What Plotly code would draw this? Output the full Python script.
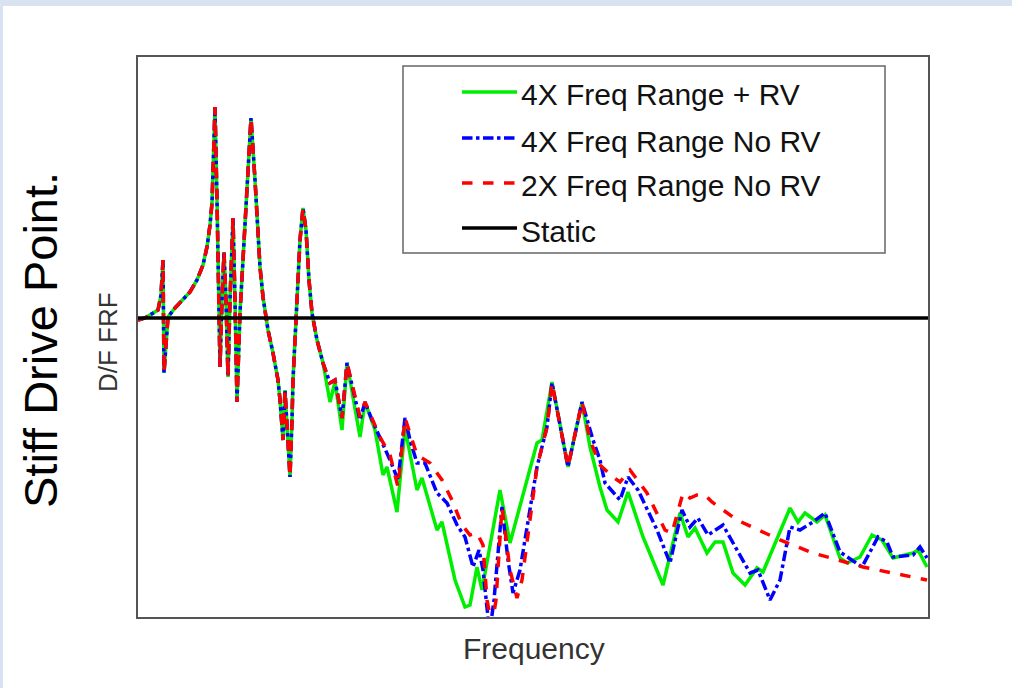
import plotly.graph_objects as go

# ---- data (frequency in arbitrary units, response in dB-like units) ----
low_freq = [0, 7, 12, 20, 23, 25, 26, 28, 30, 37, 45, 52, 59, 65, 69, 72, 74, 76, 77, 79,
            82, 84, 86, 88, 90, 92, 95, 97, 99, 102, 109, 113, 117, 122, 125, 130, 135, 140,
            142, 145, 147, 150, 152, 154, 155, 159, 162, 165, 168, 171, 174, 179, 185]
low_amp = [29.7, 29.9, 30.2, 30.7, 32.2, 35.7, 24.4, 27.7, 30.0, 30.9, 31.7, 32.5, 33.7, 35.2,
           37.0, 39.2, 41.4, 46.7, 51.0, 41.7, 25.0, 31.7, 36.5, 31.7, 24.0, 31.7, 39.9, 31.7,
           21.5, 30.4, 43.7, 49.9, 43.7, 35.0, 32.0, 28.7, 26.4, 23.7, 21.7, 17.7, 22.7, 17.7,
           14.0, 19.7, 23.7, 31.7, 37.7, 40.9, 38.7, 33.7, 30.4, 27.7, 25.4]

green_freq = [192, 197, 204, 209, 222, 227, 237, 245, 249, 259, 267, 279, 284, 299, 304, 317,
              327, 332, 339, 344, 362, 372, 399, 404, 414, 430, 444, 452, 462, 469, 480, 490,
              505, 525, 542, 550, 557, 569, 577, 585, 595, 607, 619, 625, 652, 660, 667, 679,
              687, 702, 709, 722, 734, 744, 755, 775, 780, 789]
green_amp = [21.5, 23.5, 18.7, 25.4, 18.0, 21.5, 18.7, 14.2, 15.0, 10.5, 18.9, 12.7, 13.9, 8.7,
             9.5, 3.7, 1.0, 1.2, 5.0, 2.7, 12.7, 7.4, 17.4, 17.7, 23.5, 15.0, 21.5, 17.0, 13.0,
             10.7, 9.5, 12.5, 8.0, 3.2, 10.4, 8.0, 8.9, 6.4, 7.5, 7.5, 4.4, 3.2, 4.9, 4.5, 10.9,
             9.5, 10.4, 9.5, 10.2, 5.9, 5.4, 6.0, 8.2, 7.7, 5.9, 6.4, 6.7, 5.0]

blue_freq = [192, 197, 204, 209, 222, 227, 234, 242, 252, 260, 267, 272, 279, 287, 299, 309,
             319, 327, 335, 341, 345, 350, 352, 356, 364, 370, 375, 382, 399, 409, 414, 430,
             444, 455, 462, 467, 482, 490, 500, 519, 532, 544, 552, 560, 570, 585, 599, 612,
             620, 632, 642, 652, 662, 675, 687, 702, 724, 740, 749, 755, 775, 782, 789]
blue_amp = [23.4, 23.7, 19.9, 25.4, 19.7, 21.5, 19.7, 18.0, 15.7, 13.7, 19.9, 17.7, 15.4, 15.4,
            12.4, 11.4, 9.2, 8.0, 5.0, 6.7, 4.7, 0.0, -1.3, 1.7, 11.0, 5.7, 2.4, 4.7, 15.0,
            19.0, 23.4, 15.0, 21.5, 17.7, 15.7, 13.4, 11.7, 14.0, 12.7, 8.7, 5.4, 10.7, 9.0,
            9.9, 8.2, 9.2, 6.7, 4.4, 4.7, 1.7, 3.7, 9.0, 8.7, 9.5, 10.4, 6.5, 5.0, 8.0, 7.5,
            6.0, 6.2, 7.0, 5.9]

red_freq = [192, 197, 204, 209, 222, 227, 242, 252, 260, 267, 279, 292, 304, 314, 324, 332,
            339, 345, 349, 354, 358, 364, 372, 379, 384, 399, 409, 414, 430, 444, 452, 462,
            475, 482, 492, 509, 527, 534, 545, 552, 559, 567, 574, 599, 642, 675, 725, 789]
red_amp = [23.4, 23.7, 19.9, 25.4, 20.0, 21.5, 18.0, 16.2, 13.0, 19.9, 16.2, 15.4, 13.7, 11.7,
           9.2, 8.2, 8.4, 7.2, 1.7, -0.8, 1.7, 11.0, 4.7, 1.9, 3.7, 15.0, 19.0, 23.4, 15.0,
           21.5, 17.7, 15.2, 14.0, 13.5, 14.7, 12.4, 8.7, 8.4, 12.4, 11.9, 12.2, 12.2, 11.5,
           9.7, 7.7, 6.4, 5.0, 3.7]

static_freq = [0, 790]
static_amp = [29.9, 29.9]

series_names = ["4X Freq Range + RV", "4X Freq Range No RV", "2X Freq Range No RV", "Static"]
series_colors = ["#00ee00", "#0000ff", "#ff0000", "#000000"]
series_dash = ["solid", "dashdot", "dash", "solid"]

x_range = [0, 790]
y_range = [0, 56]

FONT = "Liberation Sans, Arial, sans-serif"
LW = 3.5

fig = go.Figure()
fig.add_trace(go.Scatter(x=low_freq + green_freq, y=low_amp + green_amp, mode="lines",
                         line=dict(color=series_colors[0], width=LW, dash=series_dash[0]),
                         name=series_names[0]))
fig.add_trace(go.Scatter(x=low_freq + blue_freq, y=low_amp + blue_amp, mode="lines",
                         line=dict(color=series_colors[1], width=LW, dash=series_dash[1]),
                         name=series_names[1]))
fig.add_trace(go.Scatter(x=low_freq + red_freq, y=low_amp + red_amp, mode="lines",
                         line=dict(color=series_colors[2], width=LW, dash=series_dash[2]),
                         name=series_names[2]))
fig.add_trace(go.Scatter(x=static_freq, y=static_amp, mode="lines",
                         line=dict(color=series_colors[3], width=3.5),
                         name=series_names[3]))

# plot area: x 138..928, y 57..617 in a 1012x688 canvas
L, R, T, B = 138, 84, 57, 71
W, H = 1012 - L - R, 688 - T - B


def px(x):
    return (x - L) / W


def py(y):
    return (688 - B - y) / H


shapes = []
# light-blue slide border strips
shapes.append(dict(type="rect", xref="paper", yref="paper", x0=px(0), x1=px(1012),
                   y0=py(6), y1=py(0), fillcolor="#d8e2f0", line=dict(width=0), layer="below"))
shapes.append(dict(type="rect", xref="paper", yref="paper", x0=px(0), x1=px(3),
                   y0=py(688), y1=py(0), fillcolor="#d8e2f0", line=dict(width=0), layer="below"))
# legend box
shapes.append(dict(type="rect", xref="paper", yref="paper", x0=px(403), x1=px(885),
                   y0=py(253), y1=py(66), fillcolor="white", line=dict(color="#666666", width=1.5)))

annotations = []
row_y = [92, 138, 183, 228]
for name, color, dash, yy in zip(series_names, series_colors, series_dash, row_y):
    shapes.append(dict(type="line", xref="paper", yref="paper", x0=px(462), x1=px(517),
                       y0=py(yy), y1=py(yy), line=dict(color=color, width=3.5, dash=dash)))
    annotations.append(dict(text=name, xref="paper", yref="paper", x=px(519), y=py(yy + 3),
                            xanchor="left", yanchor="middle", showarrow=False,
                            font=dict(family=FONT, size=30, color="#111111")))

annotations.append(dict(text="Stiff Drive Point.", xref="paper", yref="paper", x=px(40), y=py(340),
                        xanchor="center", yanchor="middle", showarrow=False, textangle=-90,
                        font=dict(family=FONT, size=47, color="#000000")))
annotations.append(dict(text="D/F FRF", xref="paper", yref="paper", x=px(108), y=py(342),
                        xanchor="center", yanchor="middle", showarrow=False, textangle=-90,
                        font=dict(family=FONT, size=26, color="#333333")))
annotations.append(dict(text="Frequency", xref="paper", yref="paper", x=px(534), y=py(648),
                        xanchor="center", yanchor="middle", showarrow=False,
                        font=dict(family=FONT, size=30, color="#333333")))

fig.update_layout(
    width=1012, height=688,
    margin=dict(l=L, r=R, t=T, b=B),
    paper_bgcolor="white", plot_bgcolor="white",
    showlegend=False,
    shapes=shapes, annotations=annotations,
    hovermode=False,
)
axis_common = dict(showgrid=False, zeroline=False, showticklabels=False, ticks="",
                   showline=True, mirror=True, linecolor="#555555", linewidth=1.5)
fig.update_xaxes(range=x_range, **axis_common)
fig.update_yaxes(range=y_range, **axis_common)

fig.write_html("out.html", config={"displayModeBar": False},
               post_script="document.body.style.margin='0';document.body.style.overflow='hidden';")
